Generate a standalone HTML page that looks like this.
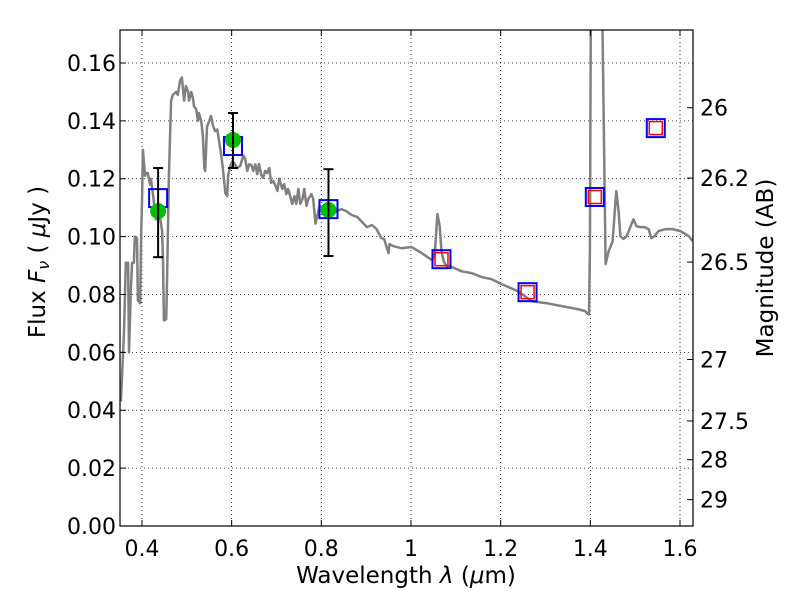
<!DOCTYPE html>
<html><head><meta charset="utf-8"><style>
body{margin:0;background:#fff;}
svg text{font-family:"DejaVu Sans","Liberation Sans",sans-serif;fill:#000;}
</style></head><body>
<svg id="chart" width="800" height="600" xmlns="http://www.w3.org/2000/svg"></svg>
<script>
const specLam=[0.353,0.360,0.364,0.369,0.371,0.375,0.378,0.382,0.384,0.389,
0.391,0.396,0.398,0.400,0.402,0.407,0.409,0.413,0.418,0.420,
0.425,0.427,0.431,0.436,0.440,0.445,0.447,0.449,0.454,0.456,
0.460,0.465,0.469,0.476,0.480,0.485,0.489,0.494,0.498,0.503,
0.505,0.510,0.514,0.516,0.521,0.525,0.527,0.532,0.536,0.539,
0.541,0.545,0.550,0.554,0.559,0.563,0.568,0.572,0.577,0.581,
0.586,0.590,0.592,0.597,0.601,0.606,0.612,0.619,0.626,0.630,
0.635,0.639,0.644,0.648,0.653,0.657,0.661,0.666,0.670,0.675,
0.679,0.684,0.688,0.693,0.697,0.702,0.706,0.713,0.717,0.722,
0.726,0.731,0.735,0.740,0.744,0.749,0.753,0.758,0.762,0.767,
0.771,0.778,0.782,0.787,0.796,0.822,0.834,0.845,0.856,0.867,
0.880,0.891,0.902,0.913,0.923,0.934,0.940,0.945,0.950,0.952,
0.961,0.979,1.001,1.024,1.046,1.053,1.055,1.059,1.064,1.068,
1.073,1.079,1.091,1.113,1.135,1.158,1.180,1.202,1.240,1.269,
1.303,1.336,1.370,1.388,1.395,1.397,1.399,1.401,1.426,1.427,
1.434,1.441,1.450,1.454,1.458,1.463,1.467,1.474,1.481,1.490,
1.496,1.503,1.512,1.521,1.530,1.536,1.543,1.552,1.568,1.583,
1.601,1.619,1.628];
const specFlux=[0.043,0.067,0.091,0.091,0.060,0.081,0.091,0.091,0.100,0.0995,
0.078,0.077,0.100,0.112,0.130,0.121,0.122,0.122,0.118,0.120,
0.114,0.111,0.106,0.111,0.107,0.102,0.092,0.071,0.0715,0.086,
0.121,0.147,0.149,0.150,0.149,0.154,0.155,0.147,0.152,0.150,
0.147,0.150,0.1475,0.145,0.144,0.140,0.1427,0.140,0.1347,0.1237,
0.1227,0.138,0.140,0.1417,0.138,0.1365,0.137,0.133,0.128,0.1227,
0.115,0.114,0.121,0.1244,0.126,0.1254,0.1237,0.1244,0.128,0.127,
0.1227,0.125,0.1247,0.1227,0.125,0.1216,0.1251,0.1213,0.1203,0.1227,
0.122,0.1237,0.1186,0.1192,0.1179,0.1158,0.120,0.1165,0.1182,0.1147,
0.1165,0.1137,0.1113,0.114,0.1113,0.1165,0.1113,0.113,0.1165,0.1106,
0.113,0.1147,0.113,0.1045,0.1106,0.1088,0.1088,0.1095,0.1088,0.1075,
0.1068,0.105,0.1033,0.104,0.1026,0.0995,0.0992,0.0967,0.0943,0.0974,
0.0967,0.096,0.0964,0.0943,0.092,0.0933,0.0985,0.1078,0.1036,0.095,
0.0915,0.0898,0.0895,0.088,0.0874,0.086,0.0853,0.0836,0.081,0.0777,
0.077,0.076,0.075,0.0743,0.0732,0.0732,0.095,0.175,0.175,0.175,
0.0905,0.095,0.0985,0.1075,0.1157,0.1088,0.1001,0.0992,0.1001,0.1036,
0.106,0.1036,0.1033,0.1033,0.1026,0.0995,0.1001,0.1019,0.1026,0.1026,
0.1019,0.1002,0.0985];
const bandLam=[0.436,0.603,0.816,1.068,1.260,1.410,1.546];
const bandFlux=[0.1133,0.1313,0.1095,0.0922,0.0808,0.1137,0.1375];
const redIdx=[3,4,5,6];
const obsLam=[0.436,0.603,0.816];
const obsFlux=[0.1088,0.1334,0.1092];
const obsLo=[0.0929,0.1237,0.0933];
const obsHi=[0.1237,0.1427,0.1233];
const xTicks=[0.4,0.6,0.8,1.0,1.2,1.4,1.6];
const xTickLabels=["0.4","0.6","0.8","1","1.2","1.4","1.6"];
const yTicks=[0,0.02,0.04,0.06,0.08,0.10,0.12,0.14,0.16];
const yTickLabels=["0.00","0.02","0.04","0.06","0.08","0.10","0.12","0.14","0.16"];
const magTicks=[26,26.2,26.5,27,27.5,28,29];
const magLabels=["26","26.2","26.5","27","27.5","28","29"];

const L=120,R=693,T=30,B=526;
const xmin=0.351,xmax=1.629,ymin=0,ymax=0.1714;
const X=v=>L+(v-xmin)/(xmax-xmin)*(R-L);
const Y=v=>B-(v-ymin)/(ymax-ymin)*(B-T);
const svg=document.getElementById('chart');
const NS='http://www.w3.org/2000/svg';
function mk(tag,attrs,parent){const e=document.createElementNS(NS,tag);for(const k in attrs)e.setAttribute(k,attrs[k]);(parent||svg).appendChild(e);return e;}

const defs=mk('defs',{});const cp=mk('clipPath',{id:'clip'},defs);mk('rect',{x:L,y:T,width:R-L,height:B-T},cp);

const grid=mk('g',{});


xTicks.forEach(t=>{mk('line',{x1:X(t),x2:X(t),y1:T,y2:B,stroke:'#000','stroke-width':0.8,'stroke-dasharray':'1,3'},grid);});
yTicks.forEach(t=>{mk('line',{x1:L,x2:R,y1:Y(t),y2:Y(t),stroke:'#000','stroke-width':0.8,'stroke-dasharray':'1,3'},grid);});

let d='';specLam.forEach((l,i)=>{d+=(i?'L':'M')+X(l).toFixed(1)+','+Y(specFlux[i]).toFixed(1);});
const sp=mk('path',{d:d,fill:'none',stroke:'#808080','stroke-width':2.5,'stroke-linejoin':'round','clip-path':'url(#clip)'});



bandLam.forEach((l,i)=>{
  const r=mk('rect',{x:X(l)-9,y:Y(bandFlux[i])-9,width:18,height:18,fill:'none',stroke:'#0000ff','stroke-width':2});
  
  
});
redIdx.forEach(i=>{
  const r=mk('rect',{x:X(bandLam[i])-6.5,y:Y(bandFlux[i])-6.5,width:13,height:13,fill:'none',stroke:'#ff0000','stroke-width':1.5});
  
  
});
obsLam.forEach((l,i)=>{
  const g=mk('g',{});
  
  
  mk('circle',{cx:X(l),cy:Y(obsFlux[i]),r:8,fill:'#00bf00'},g);
  mk('line',{x1:X(l),x2:X(l),y1:Y(obsLo[i]),y2:Y(obsHi[i]),stroke:'#000','stroke-width':2},g);
  mk('line',{x1:X(l)-5,x2:X(l)+5,y1:Y(obsLo[i]),y2:Y(obsLo[i]),stroke:'#000','stroke-width':2},g);
  mk('line',{x1:X(l)-5,x2:X(l)+5,y1:Y(obsHi[i]),y2:Y(obsHi[i]),stroke:'#000','stroke-width':2},g);
});

const fr=mk('rect',{x:L,y:T,width:R-L,height:B-T,fill:'none',stroke:'#000','stroke-width':1.2});



xTicks.forEach((t,i)=>{
  mk('line',{x1:X(t),x2:X(t),y1:B,y2:B-6,stroke:'#000'});
  mk('line',{x1:X(t),x2:X(t),y1:T,y2:T+6,stroke:'#000'});
  const tx=mk('text',{x:X(t),y:B+30,'text-anchor':'middle','font-size':22});
  tx.textContent=xTickLabels[i];
  
  
});
yTicks.forEach((t,i)=>{
  mk('line',{x1:L,x2:L+6,y1:Y(t),y2:Y(t),stroke:'#000'});
  const tx=mk('text',{x:L-4,y:Y(t)+8,'text-anchor':'end','font-size':22});
  tx.textContent=yTickLabels[i];
  
  
});
magTicks.forEach((m,i)=>{
  const f=Math.pow(10,(23.9-m)/2.5);const y=Y(f);
  mk('line',{x1:R,x2:R-6,y1:y,y2:y,stroke:'#000'});
  const tx=mk('text',{x:R+7,y:y+8,'font-size':22});
  tx.textContent=magLabels[i];
  
  
});

const xt=mk('text',{x:406,y:583,'text-anchor':'middle','font-size':23});
xt.innerHTML='Wavelength  <tspan font-style="italic">λ</tspan> (<tspan font-style="italic">μ</tspan>m)';


const yt=mk('text',{x:0,y:0,'text-anchor':'middle','font-size':23,transform:'translate(45,262) rotate(-90)'});
yt.innerHTML='Flux  <tspan font-style="italic">F</tspan><tspan font-style="italic" font-size="16" dy="4">ν</tspan><tspan dy="-4">  ( </tspan><tspan font-style="italic">μ</tspan>Jy )';


const rt=mk('text',{x:0,y:0,'text-anchor':'middle','font-size':23,transform:'translate(773,268) rotate(-90)'});
rt.textContent='Magnitude (AB)';


</script>
</body></html>
